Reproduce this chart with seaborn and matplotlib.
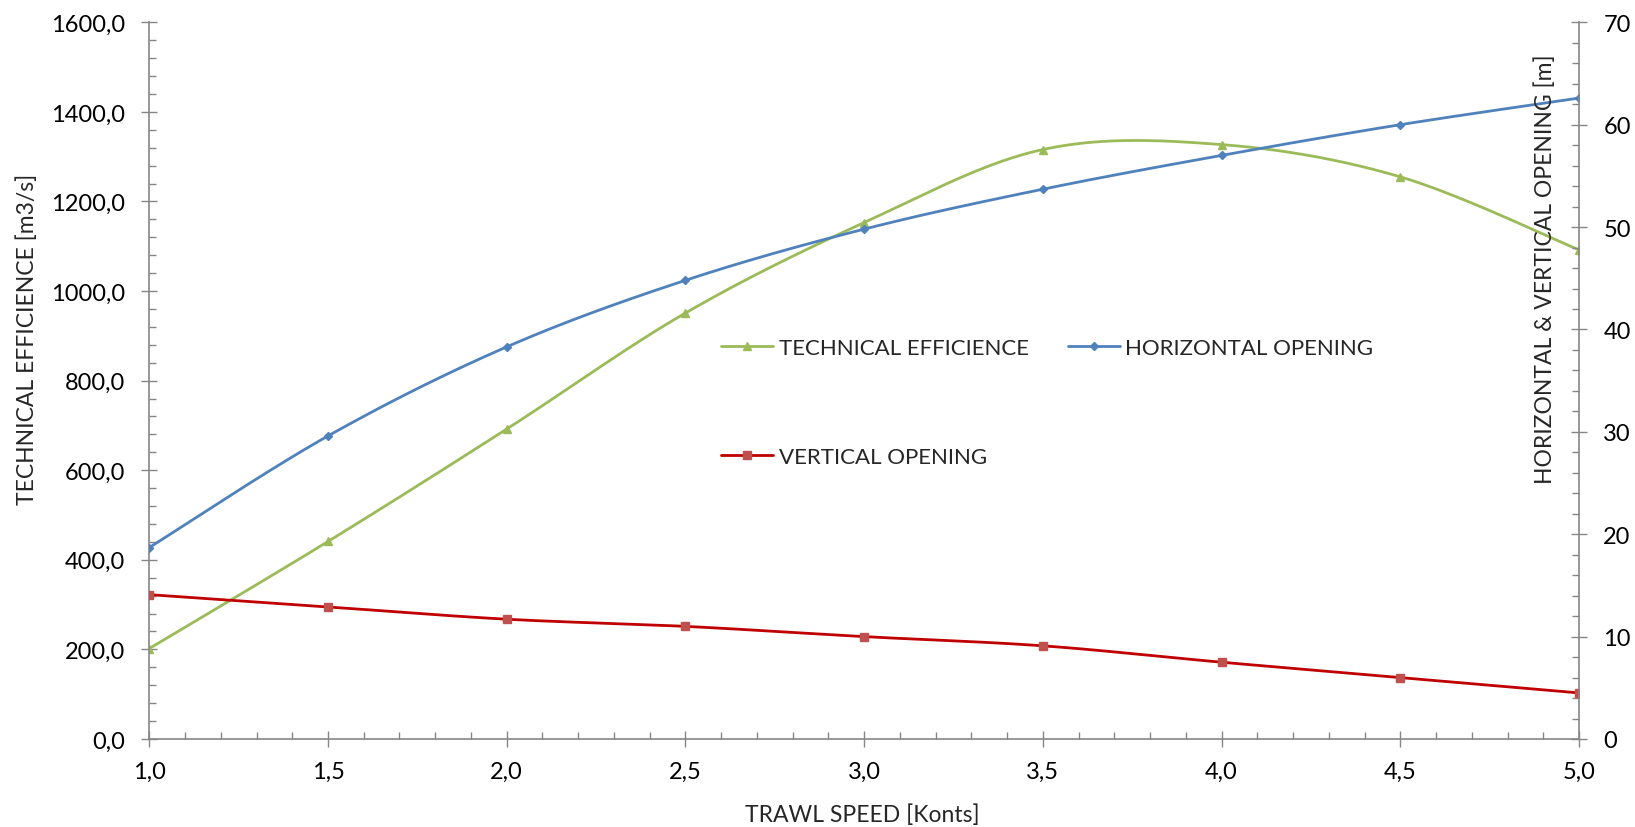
import numpy as np
import matplotlib
matplotlib.use("Agg")
import matplotlib.pyplot as plt
from matplotlib.lines import Line2D
from matplotlib.ticker import MultipleLocator, FuncFormatter
import seaborn as sns

# values
speed = [1.0, 1.5, 2.0, 2.5, 3.0, 3.5, 4.0, 4.5, 5.0]
technical_efficience = [202, 441, 692, 951, 1153, 1316, 1327, 1255, 1092]
horizontal_opening = [18.7, 29.6, 38.3, 44.8, 49.8, 53.7, 57.0, 60.0, 62.6]
vertical_opening = [14.1, 12.9, 11.7, 11.0, 10.0, 9.1, 7.5, 6.0, 4.5]

GREEN = "#9BBB59"
BLUE = "#4F81BD"
RED_LINE = "#C00000"
RED_MARK = "#C0504D"
GREY = "#868686"


def smooth(x, y, n=40):
    """Catmull-Rom style smoothing like Excel's 'smoothed line'."""
    x = np.asarray(x, float)
    y = np.asarray(y, float)
    px = np.concatenate([[x[0]], x, [x[-1]]])
    py = np.concatenate([[y[0]], y, [y[-1]]])
    xs, ys = [], []
    t = np.linspace(0, 1, n)
    for i in range(1, len(px) - 2):
        p0 = np.array([px[i], py[i]])
        p3 = np.array([px[i + 1], py[i + 1]])
        p1 = p0 + (np.array([px[i + 1], py[i + 1]]) - np.array([px[i - 1], py[i - 1]])) / 6
        p2 = p3 - (np.array([px[i + 2], py[i + 2]]) - np.array([px[i], py[i]])) / 6
        b = ((1 - t) ** 3)[:, None] * p0 + (3 * (1 - t) ** 2 * t)[:, None] * p1 \
            + (3 * (1 - t) * t ** 2)[:, None] * p2 + (t ** 3)[:, None] * p3
        xs.extend(b[:, 0])
        ys.extend(b[:, 1])
    return np.array(xs), np.array(ys)


sns.set_style("white")
plt.rcParams['font.family'] = ['Lato', 'DejaVu Sans']

fig = plt.figure(figsize=(16.35, 8.28), dpi=100)
ax = fig.add_axes([149.3 / 1635, 1 - 740 / 828, (1579 - 149.3) / 1635, (740 - 23.3) / 828])
ax2 = ax.twinx()

# technical efficience on the left axis
sx, sy = smooth(speed, technical_efficience)
sns.lineplot(x=sx, y=sy, ax=ax, color=GREEN, lw=2, sort=False, estimator=None)
ax.plot(speed, technical_efficience, ls="none", marker="^", ms=5.5, color=GREEN)

# openings on the right axis
sx, sy = smooth(speed, horizontal_opening)
sns.lineplot(x=sx, y=sy, ax=ax2, color=BLUE, lw=2, sort=False, estimator=None)
ax2.plot(speed, horizontal_opening, ls="none", marker="D", ms=4, color=BLUE)

sx, sy = smooth(speed, vertical_opening)
sns.lineplot(x=sx, y=sy, ax=ax2, color=RED_LINE, lw=2, sort=False, estimator=None)
ax2.plot(speed, vertical_opening, ls="none", marker="s", ms=5.5, color=RED_MARK)

ax.set_xlim(1.0, 5.0)
ax.set_ylim(0, 1600)
ax2.set_ylim(0, 70)

ax.xaxis.set_major_locator(MultipleLocator(0.5))
ax.xaxis.set_minor_locator(MultipleLocator(0.1))
ax.yaxis.set_major_locator(MultipleLocator(200))
ax.yaxis.set_minor_locator(MultipleLocator(40))
ax2.yaxis.set_major_locator(MultipleLocator(10))
ax2.yaxis.set_minor_locator(MultipleLocator(2))

comma1 = FuncFormatter(lambda v, p: f"{v:.1f}".replace(".", ","))
ax.xaxis.set_major_formatter(comma1)
ax.yaxis.set_major_formatter(comma1)
ax2.yaxis.set_major_formatter(FuncFormatter(lambda v, p: f"{v:.0f}"))

for a in (ax, ax2):
    a.spines["top"].set_visible(False)
    for side in ("left", "right", "bottom"):
        a.spines[side].set_color(GREY)
        a.spines[side].set_linewidth(1.2)
    a.tick_params(which="major", direction="inout", length=11, width=1, color=GREY,
                  labelsize=17, labelcolor="black")
    a.tick_params(which="minor", direction="in", length=5, width=1, color=GREY)
ax.spines["right"].set_visible(False)
ax2.spines["left"].set_visible(False)
ax2.spines["bottom"].set_visible(False)
ax.tick_params(axis="y", which="major", pad=12)
ax2.tick_params(axis="y", which="major", pad=12)
ax.tick_params(axis="x", which="major", pad=10)
ax.tick_params(axis="y", which="both", left=True, right=False)
ax.tick_params(axis="x", which="both", bottom=True)
ax2.tick_params(axis="y", which="both", right=True, left=False)

ax.set_xlabel("")
ax.set_ylabel("")
ax2.set_ylabel("")
fig.text(862.5 / 1635, 1 - 815 / 828, "TRAWL SPEED [Konts]", ha="center", va="center", fontsize=16.5)
fig.text(27 / 1635, 1 - 339 / 828, "TECHNICAL EFFICIENCE [m3/s]", ha="center", va="center",
         rotation=90, fontsize=16.5)
fig.text(1545 / 1635, 1 - 269 / 828, "HORIZONTAL & VERTICAL OPENING [m]", ha="center", va="center",
         rotation=90, fontsize=16.5)

handles = [
    Line2D([], [], color=GREEN, lw=2, marker="^", ms=5.5),
    Line2D([], [], color=RED_LINE, lw=2, marker="s", ms=5.5, markerfacecolor=RED_MARK,
           markeredgecolor=RED_MARK),
    Line2D([], [], color=BLUE, lw=2, marker="D", ms=4),
]
labels = ["TECHNICAL EFFICIENCE", "VERTICAL OPENING", "HORIZONTAL OPENING"]
fig.legend(handles, labels, ncol=2, loc="upper left",
           bbox_to_anchor=(721 / 1635, 1 - 339 / 828), frameon=False, fontsize=16,
           handlelength=2.35, handletextpad=0.25, columnspacing=1.75, labelspacing=4.0,
           borderpad=0, borderaxespad=0)

fig.savefig("out.png", dpi=100)
